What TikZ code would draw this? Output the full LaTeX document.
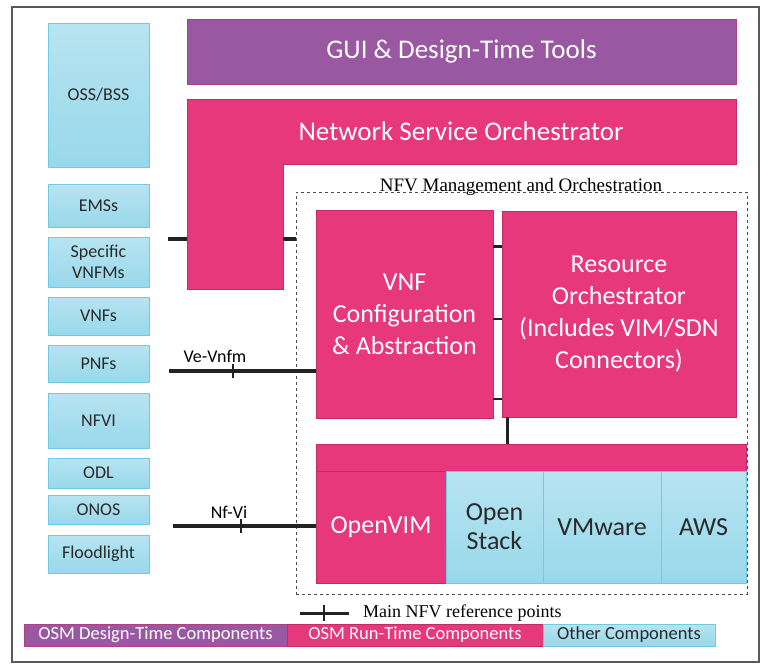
\documentclass[tikz,border=0pt]{standalone}
\usepackage{fontspec}
\setmainfont{Carlito}
\newfontfamily\refserif{Liberation Serif}
\usetikzlibrary{positioning}
\definecolor{runpink}{HTML}{E6387A}
\definecolor{runedge}{HTML}{C02C66}
\definecolor{designpurple}{HTML}{9B58A2}
\definecolor{designedge}{HTML}{B2407F}
\definecolor{othertop}{HTML}{B7E4F1}
\definecolor{otherbot}{HTML}{98D8EA}
\definecolor{otheredge}{HTML}{6ECBE3}
\definecolor{darktext}{HTML}{2A2A2A}
\definecolor{linkgray}{HTML}{222222}

\begin{document}
\begin{tikzpicture}[
  x=1pt,y=-1pt,
  box/.style={inner sep=0pt,outer sep=0pt,align=center},
  other/.style={box,draw=otheredge,line width=1pt,top color=othertop,bottom color=otherbot,
    text=darktext,font=\fontsize{18}{21}\selectfont},
  runtime/.style={box,draw=runedge,line width=0.8pt,fill=runpink,text=white,
    font=\fontsize{26}{32}\selectfont},
  design/.style={box,draw=designedge,line width=0.8pt,fill=designpurple,text=white,
    font=\fontsize{27}{32}\selectfont},
  vimbox/.style={other,font=\fontsize{26}{29}\selectfont},
  keybox/.style={box,minimum height=22,font=\fontsize{18}{21}\selectfont},
  refpt/.style={draw=linkgray,line width=4pt},
  thinlink/.style={draw=linkgray,line width=1.3pt},
  tick/.style={draw=linkgray,line width=1.2pt},
  reflabel/.style={font=\fontsize{18}{21}\selectfont,text=black,inner sep=0pt}
]
\useasboundingbox (0,0) rectangle (772,672);
\draw[line width=1.5pt,draw=black!65] (12,7) rectangle (759,662);

\node[other,minimum width=101,minimum height=144] (oss)   at (98.5,95)  {OSS/BSS};
\node[other,minimum width=101,minimum height=43]  (ems)   at (98.5,205.5) {EMSs};
\node[other,minimum width=101,minimum height=50]  (vnfms) at (98.5,262) {Specific\\VNFMs};
\node[other,minimum width=101,minimum height=38]  (vnfs)  at (98.5,316) {VNFs};
\node[other,minimum width=101,minimum height=37]  (pnfs)  at (98.5,363.5) {PNFs};
\node[other,minimum width=101,minimum height=55]  (nfvi)  at (98.5,420.5) {NFVI};
\node[other,minimum width=101,minimum height=30]  (odl)   at (98.5,473) {ODL};
\node[other,minimum width=101,minimum height=29]  (onos)  at (98.5,509.5) {ONOS};
\node[other,minimum width=101,minimum height=38]  (flood) at (98.5,554) {Floodlight};

\node[design,minimum width=549,minimum height=65] (gui) at (461.5,51.5) {GUI \& Design-Time Tools};

\filldraw[fill=runpink,draw=runedge,line width=0.8pt]
  (187,99) -- (736,99) -- (736,164) -- (283,164) -- (283,289) -- (187,289) -- cycle;
\node[text=white,font=\fontsize{27}{32}\selectfont,inner sep=0pt] (nso) at (461,131) {Network Service Orchestrator};
\coordinate (nsoW) at (187,239);
\coordinate (nsoE) at (283,239);

\node[draw=black!70,dashed,line width=0.8pt,minimum width=451,minimum height=402,inner sep=0pt] (mano) at (521.5,393) {};
\node[anchor=base,inner sep=0pt,font=\refserif\fontsize{19}{21}\selectfont] (manolabel) at (521,191) {NFV Management and Orchestration};

\node[runtime,minimum width=177,minimum height=208] (vnfc) at (404.5,314) {VNF\\Configuration\\\& Abstraction};
\node[runtime,minimum width=234,minimum height=206] (ro) at (619,314) {Resource\\Orchestrator\\(Includes VIM/SDN\\Connectors)};

\node[runtime,minimum width=430,minimum height=27] (vimbar) at (531,457.5) {};
\node[runtime,minimum width=130,minimum height=112] (openvim) at (381,527) {OpenVIM};
\node[vimbox,minimum width=97,minimum height=112]  (openstack) at (494.5,527) {Open\\Stack};
\node[vimbox,minimum width=118,minimum height=112] (vmware) at (602,527) {VMware};
\node[vimbox,minimum width=85,minimum height=112]  (aws) at (703.5,527) {AWS};

\coordinate (emsend) at (168,239);
\draw[refpt] (emsend) -- (nsoW);
\draw[refpt] (nsoE) -- (mano.west |- nsoE);

\coordinate (vestart) at (169,371);
\draw[refpt] (vestart) -- (vestart -| vnfc.west);
\draw[tick] (233,364) -- (233,378);
\node[reflabel] (vevnfm) at (215,356) {Ve-Vnfm};

\coordinate (nfstart) at (173,526);
\draw[refpt] (nfstart) -- (nfstart -| openvim.west);
\draw[tick] (241,519) -- (241,533);
\node[reflabel] (nfvi-label) at (229,512) {Nf-Vi};

\draw[refpt,line width=3pt] (vnfc.east |- 0,246) -- (ro.west |- 0,246);
\draw[thinlink] (vnfc.east |- 0,319) -- (ro.west |- 0,319);
\draw[thinlink] (vnfc.east |- 0,399) -- (ro.west |- 0,399);
\draw[refpt,line width=3pt] (ro.south -| 507,0) -- (vimbar.north -| 507,0);

\coordinate (keyA) at (300,613);
\coordinate (keyB) at (349,613);
\draw[refpt,line width=3pt] (keyA) -- (keyB);
\draw[tick,line width=1.5pt] (324,605) -- (324,621);
\node[anchor=west,inner sep=0pt,font=\refserif\fontsize{18}{20}\selectfont] (keytext) at (363,613) {Main NFV reference points};

\node[keybox,design,font=\fontsize{18.5}{21}\selectfont,minimum width=263,minimum height=22] (keydesign) at (155.5,635) {OSM Design-Time Components};
\node[keybox,runtime,font=\fontsize{18.5}{21}\selectfont,minimum width=256,minimum height=22] (keyrun) at (415,635) {OSM Run-Time Components};
\node[keybox,other,font=\fontsize{18.5}{21}\selectfont,minimum width=172,minimum height=22] (keyother) at (629,635) {Other Components};
\end{tikzpicture}
\end{document}
